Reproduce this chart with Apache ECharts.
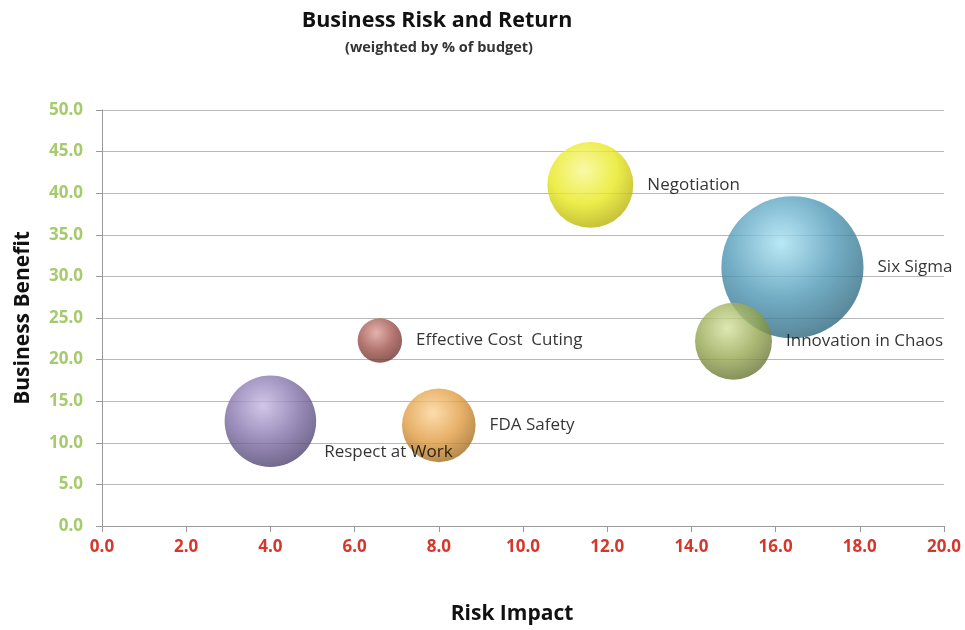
<!DOCTYPE html>
<html><head><meta charset="utf-8">
<script src="https://cdn.jsdelivr.net/npm/echarts@6/dist/echarts.min.js"></script>
<style>html,body{margin:0;padding:0;background:#fff}#c{width:965px;height:630px}</style>
</head><body><div id="c"></div>
<script>
const names = ["Negotiation","Six Sigma","Innovation in Chaos","Effective Cost  Cuting","Respect at Work","FDA Safety"];
const riskImpact = [11.6, 16.4, 15.0, 6.6, 4.0, 8.0];
const businessBenefit = [41.0, 31.1, 22.2, 22.3, 12.6, 12.1];
const budgetPct = [15, 41, 12, 4, 17, 11];
const xTicks = [0,2,4,6,8,10,12,14,16,18,20];
const yTicks = [0,5,10,15,20,25,30,35,40,45,50];

const palette = [
  ["#f8f890","#e8e81e","#a8a000"],
  ["#a8e2f4","#4f98b6","#24586c"],
  ["#d4e2a0","#98a852","#56642a"],
  ["#dca098","#a0534c","#5e2824"],
  ["#c8b8e4","#8070a8","#40345e"],
  ["#fcd498","#e09c42","#8e5c14"]
];
function grad(c){
  return {type:'radial',x:0.42,y:0.33,r:0.78,colorStops:[
    {offset:0,color:c[0]},{offset:0.5,color:c[1]},{offset:1,color:c[2]}]};
}
const font = '"Open Sans", sans-serif';
const data = names.map((n,i)=>{
  const d = {name:n, value:[riskImpact[i], businessBenefit[i], budgetPct[i]], itemStyle:{color:grad(palette[i])}};
  if (n === "Respect at Work") d.label = {position:'right', distance:8, offset:[0,31]};
  return d;
});
const chart = echarts.init(document.getElementById('c'));
chart.setOption({
  animation:false,
  title:[
    {text:'Business Risk and Return', left:432, textAlign:'center', top:5,
     textStyle:{fontFamily:font, fontSize:21.5, fontWeight:'bold', color:'#111'}},
    {text:'(weighted by % of budget)', left:434, textAlign:'center', top:35,
     textStyle:{fontFamily:font, fontSize:14.5, fontWeight:'bold', color:'#333'}}
  ],
  grid:{left:102, right:21, top:110, bottom:103, containLabel:false},
  xAxis:{type:'value', min:0, max:20, interval:2, name:'Risk Impact', nameLocation:'middle', nameGap:78,
    nameTextStyle:{fontFamily:font, fontSize:21, fontWeight:'bold', color:'#111', padding:[0,22,0,0]},
    axisLine:{show:true, lineStyle:{color:'#999'}}, axisTick:{show:true, length:6, lineStyle:{color:'#999'}},
    axisLabel:{margin:13, fontFamily:font, fontSize:17, fontWeight:'bold', color:'#d9362b', formatter:v=>v.toFixed(1)},
    splitLine:{show:false}},
  yAxis:{type:'value', min:0, max:50, interval:5, name:'Business Benefit', nameLocation:'middle', nameGap:68, nameRotate:90,
    nameTextStyle:{fontFamily:font, fontSize:21, fontWeight:'bold', color:'#111'},
    axisLine:{show:true, lineStyle:{color:'#999'}}, axisTick:{show:true, length:6, lineStyle:{color:'#999'}},
    axisLabel:{margin:19, fontFamily:font, fontSize:17, fontWeight:'bold', color:'#a6cb6c', formatter:v=>v.toFixed(1)},
    splitLine:{show:true, lineStyle:{color:'#b8b8b8'}}},
  series:[{type:'scatter', data:data,
    symbolSize: v => 22.2*Math.sqrt(v[2]),
    label:{show:true, position:'right', distance:14, formatter:'{b}', fontFamily:font, fontSize:17, color:'#000'},
    emphasis:{disabled:true}
  }]
});
</script></body></html>
